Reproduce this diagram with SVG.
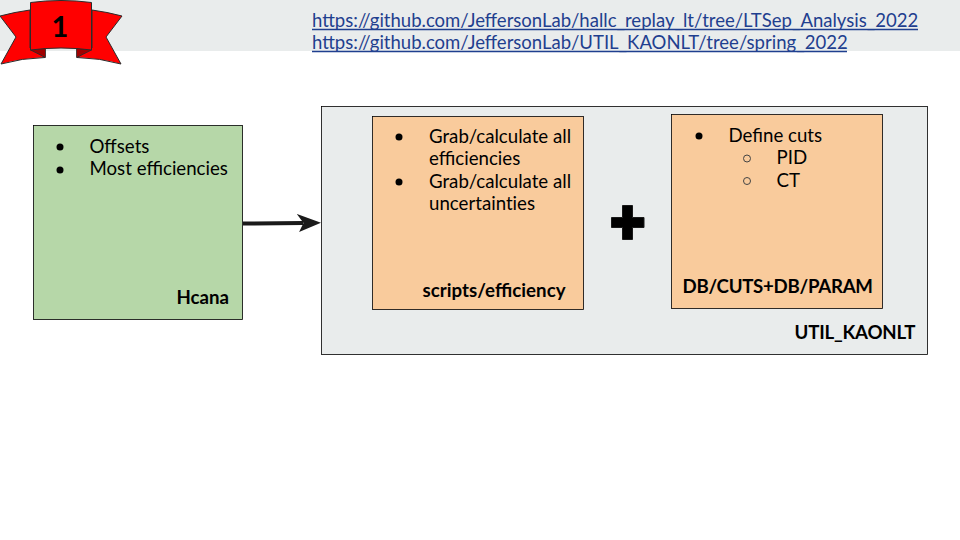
<svg xmlns="http://www.w3.org/2000/svg" width="960" height="540" viewBox="0 0 960 540">
<style>
text{font-family:Lato,"Liberation Sans",sans-serif;font-size:18.67px;fill:#000}
.b{font-weight:700}
.l{fill:#1f3f8f;font-size:18.55px}
.u{stroke:#1f3f8f;stroke-width:1.3;fill:none}
.box{stroke:#000;stroke-width:.8}
.rib{fill:#f00;stroke:#2b2b2b;stroke-width:1;stroke-linejoin:round}
.hb{fill:none;stroke:#444;stroke-width:1}
</style>
<defs>
<marker id="ah" markerUnits="userSpaceOnUse" markerWidth="26" markerHeight="20" refX="6" refY="10" orient="auto">
<path d="M0 1L24 10L2 19L6.500 10Z" fill="#1a1a1a"/>
</marker>
</defs>
<rect width="960" height="51" fill="#e9ecec"/>
<g id="ribbon">
<path class="rib" d="M0 16Q15 12 30 10V48L45 57.500Q22 58 1 64L16 37Z"/>
<path class="rib" d="M122 16Q107 12 92 10V48L77 57.500Q100 58 121 64L106 37Z"/>
<path d="M30.500 50L45.500 57.500V48Z" fill="#a00000" stroke="#2b2b2b" stroke-width=".8"/>
<path d="M91.500 50L76.500 57.500V48Z" fill="#a00000" stroke="#2b2b2b" stroke-width=".8"/>
<path class="rib" d="M30.500 2.500Q61 -1.500 91.500 2.500V50Q61 46 30.500 50Z"/>
<text x="60" y="37" text-anchor="middle" class="b" style="font-size:29px">1</text>
</g>
<g id="links">
<text class="l" x="312" y="27">https://github.com/JeffersonLab/hallc_replay_lt/tree/LTSep_Analysis_2022</text>
<path class="u" d="M312 29.500H918"/>
<text class="l" x="312" y="49">https://github.com/JeffersonLab/UTIL_KAONLT/tree/spring_2022</text>
<path class="u" d="M312 51.500H847"/>
</g>
<g id="hcana">
<rect class="box" x="33.500" y="125.500" width="209" height="194" fill="#b6d7a8"/>
<circle cx="60" cy="147" r="3.500"/><circle cx="60" cy="170" r="3.500"/>
<text x="89.500" y="152.500">Offsets</text>
<text x="89.500" y="175">Most efficiencies</text>
<text class="b" x="176.500" y="303.500">Hcana</text>
</g>
<g id="util-kaonlt">
<rect class="box" x="321.500" y="106.500" width="606" height="248" fill="#e9ecec"/>
<text class="b" x="794.500" y="338.500" textLength="121">UTIL_KAONLT</text>
</g>
<g id="scripts-efficiency">
<rect class="box" x="372.500" y="116.500" width="211" height="193" fill="#f9cb9c"/>
<circle cx="399" cy="137" r="3.500"/><circle cx="399" cy="182" r="3.500"/>
<text x="429" y="142.500">Grab/calculate all</text>
<text x="429" y="165">efficiencies</text>
<text x="429" y="188">Grab/calculate all</text>
<text x="429" y="210" style="font-variant-ligatures:none">uncertainties</text>
<text class="b" x="422.500" y="297" textLength="143">scripts/efficiency</text>
</g>
<g id="plus">
<path d="M622.500 205.500H632.500V217.500H644V227.500H632.500V239.500H622.500V227.500H611.500V217.500H622.500Z" fill="#000" stroke="#1a1a1a"/>
</g>
<g id="db-cuts">
<rect class="box" x="671.500" y="114.500" width="211" height="194" fill="#f9cb9c"/>
<circle cx="699" cy="136" r="3.500"/>
<circle class="hb" cx="747" cy="158.500" r="3.500"/>
<circle class="hb" cx="747" cy="181" r="3.500"/>
<text x="728.500" y="142">Define cuts</text>
<text x="776.500" y="164">PID</text>
<text x="776.500" y="187">CT</text>
<text class="b" x="682.500" y="293" textLength="190.500">DB/CUTS+DB/PARAM</text>
</g>
<g id="connectors">
<path d="M243 223.500L303 223" fill="none" stroke="#1a1a1a" stroke-width="4" marker-end="url(#ah)"/>
</g>
</svg>
